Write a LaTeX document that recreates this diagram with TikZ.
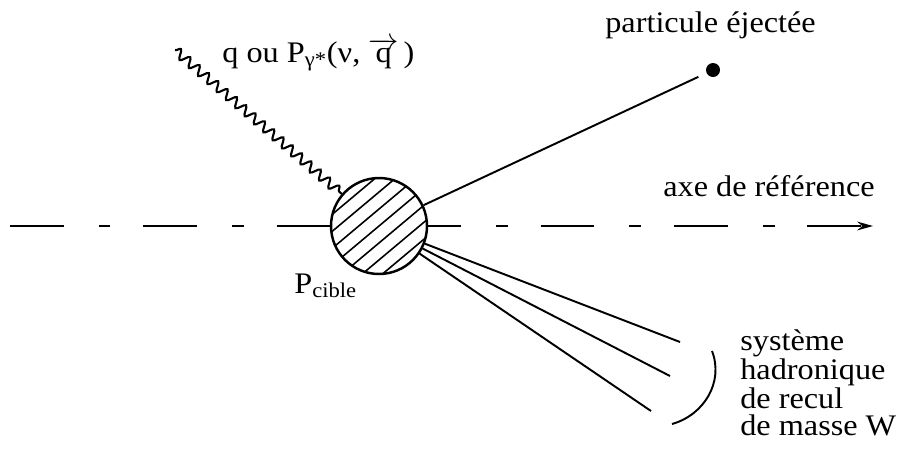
\documentclass[tikz,border=0pt]{standalone}
\usepackage{fontspec}
\setmainfont[FakeStretch=1.08]{Liberation Serif}
\usetikzlibrary{arrows.meta,decorations.pathmorphing}

\begin{document}
\begin{tikzpicture}[x=0.02cm, y=-0.02cm, >={Stealth[length=9pt,width=5pt]},
  every node/.style={font=\fontsize{17}{15.3}\selectfont},
  trait/.style={line width=1.1pt},
  axe/.style={line width=1.1pt, dash pattern=on 30.6pt off 19.8pt on 6.8pt off 18.7pt},
  photon/.style={line width=1.2pt, decorate,
    decoration={snake, segment length=7pt, amplitude=2.6pt}},
  lbl/.style={anchor=base west, inner sep=0pt}]

  \useasboundingbox (0,0) rectangle (899,454);

  % --- centre de l'interaction ---
  \def\xc{379}
  \def\yc{226}

  % hachures
  \begin{scope}
    \clip (\xc,\yc) circle (48);
    \foreach \dd in {-39,-26,...,39}
      \draw[line width=0.9pt, rotate around={40:(\xc,\yc)}]
        (\xc-60,\yc+\dd) -- (\xc+60,\yc+\dd);
  \end{scope}
  \node[circle, draw, line width=1.4pt, minimum size=1.92cm, inner sep=0pt] (cible) at (\xc,\yc) {};

  % --- axe de reference ---
  \coordinate (axg) at (10,\yc);
  \coordinate (axd) at (873,\yc);
  \draw[axe] (axg) -- (cible);
  \draw[axe, dash phase=11.9pt, ->] (cible) -- (axd);

  % --- photon virtuel ---
  \coordinate (qsrc) at (175,50);
  \draw[photon] (qsrc) -- (cible);

  % --- particule ejectee ---
  \node[circle, fill, inner sep=0pt, minimum size=0.28cm] (ejecte) at (713,70) {};
  \draw[trait, shorten >=5pt] (cible) -- (ejecte);

  % --- systeme hadronique de recul ---
  \coordinate (h1) at (680,342);
  \coordinate (h2) at (670,376);
  \coordinate (h3) at (651,411);
  \foreach \h in {h1,h2,h3}
    \draw[trait] (cible) -- (\h);

  \coordinate (wtop) at (712,351);
  \coordinate (wbot) at (672,424);
  \draw[trait] (wtop) .. controls (724,382) and (704,415) .. (wbot);

  % --- textes ---
  \node[lbl] (lblq) at (222,62) {q ou P\textsubscript{γ*}(ν, $\overrightarrow{\mbox{q}}$\,)};
  \node[lbl] (lblej) at (605,32) {particule éjectée};
  \node[lbl] (lblaxe) at (663,196) {axe de référence};
  \node[lbl] (lblcible) at (294,293) {P\textsubscript{cible}};
  \node[lbl, align=left] (lblw) at (740,435) {système\\hadronique\\de recul\\de masse W};

\end{tikzpicture}
\end{document}
